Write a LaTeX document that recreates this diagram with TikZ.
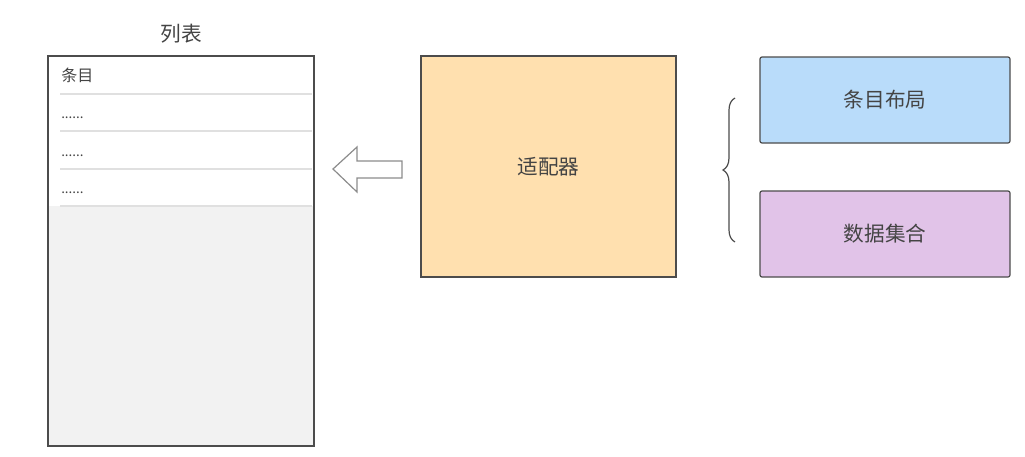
\documentclass[tikz,border=0pt]{standalone}
\usepackage{fontspec}
\setmainfont{Noto Sans CJK SC}
\usetikzlibrary{decorations.pathreplacing}

\definecolor{txtgray}{HTML}{444444}
\definecolor{adapterfill}{HTML}{FFE0AF}
\definecolor{layoutfill}{HTML}{B9DCFA}
\definecolor{datafill}{HTML}{E1C3E8}
\definecolor{listfill}{HTML}{F2F2F2}

\begin{document}
\begin{tikzpicture}[x=0.75pt, y=-0.75pt,
    box/.style={draw=black!70, line width=0.9pt, rounded corners=1.5pt, text=txtgray, font=\fontsize{15.5}{18}\selectfont},
    rowline/.style={draw=black!12, line width=0.8pt},
    rowtext/.style={anchor=west, text=txtgray, inner sep=0pt}]

   \useasboundingbox (0,0) rectangle (1025,457);

   % the list
   \fill[listfill] (48,56) rectangle (314,446);
   \fill[white] (48,56) rectangle (314,206);
   \draw[draw=black!70, line width=0.9pt] (48,56) rectangle (314,446);
   \node[text=txtgray, font=\fontsize{15.5}{18}\selectfont] (title) at (181,34) {列表};
   \node[rowtext, font=\fontsize{12}{14}\selectfont] (item) at (61,75) {条目};
   \foreach \y/\n in {115/a, 153/b, 190/c}
      \node[rowtext, font=\fontsize{10}{12}\selectfont] (dots\n) at (61,\y+3) {......};
   \foreach \y in {94, 131, 169, 206}
      \draw[rowline] (60,\y) -- (312,\y);

   % hollow arrow
   \draw[draw=black!45, line width=0.9pt, fill=white]
      (333,169) -- (357,147) -- (357,161) -- (402,161) -- (402,178) -- (357,178) -- (357,192) -- cycle;

   % adapter
   \node[box, fill=adapterfill, rounded corners=0pt, minimum width=255*0.75pt, minimum height=221*0.75pt] (adapter) at (548.5,166.5) {适配器};

   % brace
   \draw[black!70, line width=0.9pt, decorate, decoration={brace, amplitude=9pt}] (735,242) -- (735,98);

   % parts
   \node[box, fill=layoutfill, minimum width=250*0.75pt, minimum height=86*0.75pt] (layout) at (885,100) {\raisebox{-2pt}{条目布局}};
   \node[box, fill=datafill, minimum width=250*0.75pt, minimum height=86*0.75pt] (data) at (885,234) {\raisebox{-2pt}{数据集合}};
\end{tikzpicture}
\end{document}
